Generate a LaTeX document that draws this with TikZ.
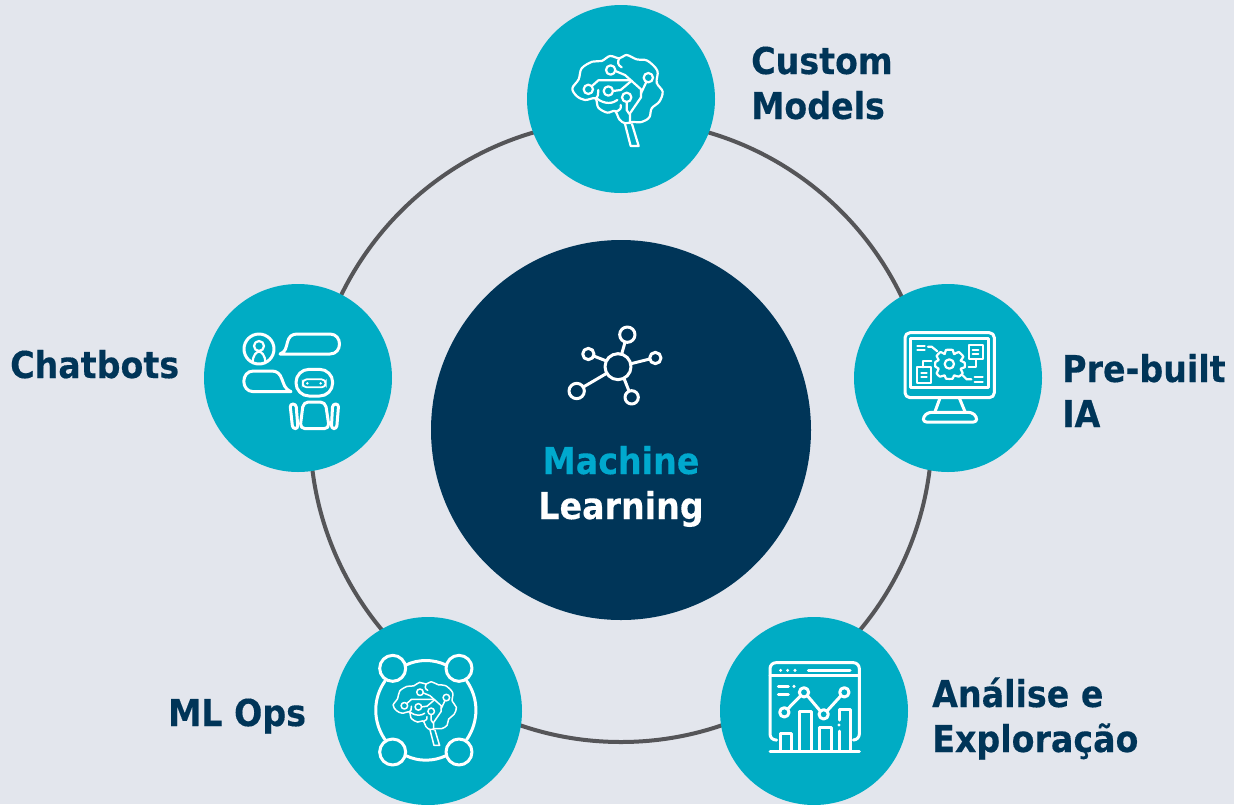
\documentclass[tikz,border=0pt]{standalone}
\usepackage{fontspec}
\setmainfont{DejaVu Sans Condensed}[BoldFeatures={FakeBold=0.25}]
\definecolor{bgc}{HTML}{E3E6ED}
\definecolor{tealc}{HTML}{00ACC4}
\definecolor{navyc}{HTML}{003558}
\definecolor{machc}{HTML}{00A9CE}
\definecolor{ringc}{HTML}{555558}
\tikzset{
  hub/.style={circle,fill=tealc,minimum size=188pt,inner sep=0pt},
  lbl/.style={text=navyc,font=\fontsize{37}{45}\selectfont\bfseries,align=left,inner sep=0pt},
  ico/.style={draw=white,line width=2.2pt,line join=round,line cap=round},
  icoa/.style={draw=white,line width=3pt,line join=round,line cap=round},
  bico/.style={ico},
}
\newcommand{\brainicon}{%
  \path[bico] plot[smooth cycle,tension=0.55] coordinates {(285,340)(268,328)(255,303)(232,308)(205,293)(196,265)(165,270)(140,258)(127,235)(146,208)(155,175)(187,155)(215,153)(240,138)(268,145)(290,135)(320,148)(352,152)(382,182)(380,218)(398,245)(388,275)(365,295)(358,322)(335,336)(306,336)};
  \path[bico] (285,342) -- (302,408) -- (326,408) -- (306,342);
  \path[bico] (242,180) circle (14);
  \path[bico] (355,203) circle (14);
  \path[bico] (175,238) circle (14);
  \path[bico] (235,243) circle (14);
  \path[bico] (290,262) circle (14);
  \path[bico] (256,183) -- (285,195) -- (333,238) -- (333,262) -- (300,310) -- (300,340);
  \path[bico] (349,216) -- (333,250);
  \path[bico] (186,228) -- (205,211) -- (298,211);
  \path[bico] (249,243) -- (272,240) -- (305,212);
  \path[bico] (290,276) -- (290,300) -- (298,312);
  \path[bico] (268,145) .. controls (262,155) and (262,165) .. (275,172);
  \path[bico] (196,265) .. controls (205,262) and (205,250) .. (205,240);
  \path[bico] (200,265) .. controls (225,285) and (250,280) .. (262,270);
  \path[bico] (258,305) .. controls (270,300) and (275,295) .. (272,285);
}
\begin{document}
\begin{tikzpicture}[x=1pt,y=-1pt]
\useasboundingbox (0,0) rectangle (1234,804);
\fill[bgc] (0,0) rectangle (1234,804);
\node[circle,draw=ringc,line width=4pt,minimum size=622pt,inner sep=0pt] (ring) at (621,431) {};
\node[circle,fill=navyc,minimum size=380pt,inner sep=0pt] (core) at (621,430) {};
\node[hub] (h1) at (621,99) {};
\node[hub] (h2) at (948,378) {};
\node[hub] (h3) at (814,711) {};
\node[hub] (h4) at (428,711) {};
\node[hub] (h5) at (298,378) {};
\node[lbl,anchor=base west] (t1) at (751,119) {Custom\\Models};
\node[lbl,anchor=base west] (t2) at (1062,427) {Pre-built\\IA};
\node[lbl,anchor=base west] (t3) at (932,752) {Análise e\\Exploração};
\node[lbl,anchor=base west] (t4) at (168,726) {ML Ops};
\node[lbl,anchor=base west] (t5) at (10,378) {Chatbots};
\node[lbl,anchor=base,align=center] (t6) at (621,519) {\textcolor{machc}{Machine}\\\textcolor{white}{Learning}};
% brain
\begin{scope}[shift={(530,10)},scale=1/3]
\brainicon
\end{scope}
% monitor
\begin{scope}[shift={(860,290)},scale=1/3]
\path[icoa,rounded corners=5pt] (135,128) rectangle (403,323);
\path[icoa] (152,146) rectangle (385,293);
\path[icoa] (240,324) -- (225,365) (298,324) -- (315,365);
\path[icoa,rounded corners=3pt] (190,396) -- (190,380) -- (205,367) -- (335,367) -- (350,380) -- (350,396) -- cycle;
\path[ico] (268,222) circle (14);
\path[ico] plot[smooth cycle,tension=0.35] coordinates {(258,180)(278,180)(282,192)(296,186)(310,200)(302,212)(314,218)(314,232)(302,236)(308,250)(296,260)(282,256)(278,266)(258,266)(254,256)(240,260)(230,250)(236,236)(226,230)(226,216)(236,210)(230,198)(242,186)(254,192)};
\path[ico] (172,168) -- (194,168) (172,181) -- (194,181);
\path[ico] (204,170) -- (215,170) -- (232,184);
\path[ico] (326,166) rectangle (368,208);
\path[ico] (338,180) -- (355,180) (338,192) -- (355,192);
\path[ico] (347,208) -- (347,232) -- (326,232);
\path[ico] (172,232) rectangle (212,278);
\path[ico] (184,250) -- (200,250) (184,262) -- (200,262);
\path[ico] (190,232) -- (190,212) -- (214,212);
\path[ico] (308,256) -- (320,268) -- (334,268);
\path[ico] (344,262) -- (368,262) (344,276) -- (368,276);
\end{scope}
% dashboard
\begin{scope}[shift={(725,625)},scale=1/3]
\path[icoa,rounded corners=6pt] (155,345) -- (135,345) -- (135,113) -- (403,113) -- (403,345) -- (385,345);
\path[icoa] (135,150) -- (403,150);
\path[icoa] (135,380) -- (403,380);
\path[icoa] (250,136) -- (375,136);
\fill[white] (167,136) circle (5) (188,136) circle (5) (210,136) circle (5) (207,184) circle (5) (342,300) circle (5);
\path[icoa] (160,184) -- (190,184) (160,209) -- (190,209);
\path[icoa] (178,262) circle (14);
\path[icoa] (237,202) circle (14);
\path[icoa] (296,268) circle (14);
\path[icoa] (358,202) circle (14);
\path[icoa] (188,252) -- (227,212) (247,212) -- (286,258) (306,258) -- (348,212);
\path[icoa] (165,378) -- (165,324) -- (199,324) -- (199,378);
\path[icoa] (224,378) -- (224,260) -- (259,260) -- (259,378);
\path[icoa] (283,378) -- (283,306) -- (318,306) -- (318,378);
\path[icoa] (342,378) -- (342,318);
\path[icoa] (342,285) -- (342,252) -- (377,252) -- (377,378);
\end{scope}
% ML Ops
\begin{scope}[shift={(340,625)},scale=1/3]
\path[icoa] (158,130) circle (39);
\path[icoa] (357,130) circle (39);
\path[icoa] (158,381) circle (39);
\path[icoa] (357,381) circle (39);
\path[icoa] (198,120) .. controls (235,102) and (280,102) .. (318,120);
\path[icoa] (198,392) .. controls (235,410) and (280,410) .. (318,392);
\path[icoa] (135,168) .. controls (98,220) and (98,290) .. (135,344);
\path[icoa] (380,168) .. controls (417,220) and (417,290) .. (380,344);
\end{scope}
\begin{scope}[shift={(392.7,681.7)},scale=0.2333,shift={(-125,-135)},bico/.style={ico,line width=1.5pt}]
\brainicon
\end{scope}
% chat
\begin{scope}[shift={(210,290)},scale=1/3]
\path[icoa] (147,177) circle (45);
\path[ico] (147,168) circle (15);
\path[ico] (128,218) .. controls (128,195) and (140,185) .. (147,185) .. controls (154,185) and (166,195) .. (166,218);
\path[icoa] (210,192) .. controls (228,185) and (228,172) .. (232,158) .. controls (236,140) and (245,132) .. (262,132) -- (360,132) .. controls (398,132) and (398,192) .. (360,192) -- cycle;
\path[icoa] (243,305) .. controls (222,295) and (222,282) .. (216,268) .. controls (210,250) and (200,243) .. (185,243) -- (130,243) .. controls (92,243) and (92,305) .. (130,305) -- cycle;
\path[icoa,rounded corners=13pt] (258,238) rectangle (368,318);
\path[draw=white,line width=1.8pt,rounded corners=4pt] (278,268) rectangle (347,292);
\fill[white] (292,280) circle (4) (332,280) circle (4);
\path[icoa,rounded corners=5pt] (280,336) -- (346,336) -- (358,416) -- (270,416) -- cycle;
\path[icoa,rounded corners=3pt] (240,342) -- (258,342) -- (264,416) -- (248,416) -- cycle;
\path[icoa,rounded corners=3pt] (368,342) -- (386,342) -- (380,416) -- (364,416) -- cycle;
\end{scope}
% network
\begin{scope}[shift={(550,310)},scale=1/3]
\path[icoa] (204,170) circle (39);
\path[icoa] (232,74) circle (23);
\path[icoa] (115,132) circle (17);
\path[icoa] (316,144) circle (17);
\path[icoa] (80,243) circle (23);
\path[icoa] (245,262) circle (20);
\path[icoa] (225,97) -- (215,132) (131,138) -- (167,152) (299,147) -- (243,161) (100,231) -- (170,190) (222,205) -- (237,243);
\end{scope}
\end{tikzpicture}
\end{document}
